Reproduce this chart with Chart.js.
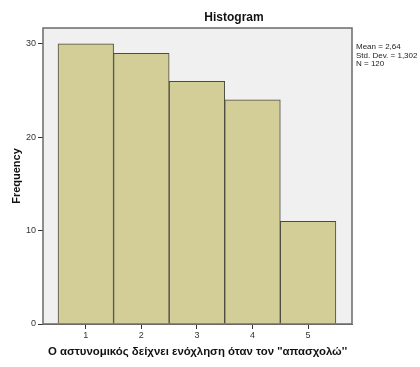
<!DOCTYPE html>
<html>
<head>
<meta charset="utf-8">
<script src="https://cdn.jsdelivr.net/npm/chart.js@4"></script>
<style>
  html, body { margin: 0; padding: 0; background: #fff; }
  #wrap { width: 420px; height: 367px; position: relative; }
</style>
</head>
<body>
<div id="wrap"><canvas id="hist"></canvas></div>
<script>
// Data
const binCenters = [1, 2, 3, 4, 5];
const frequencies = [30, 29, 26, 24, 11];
const yTicks = [0, 10, 20, 30];
const statsLines = ['Mean = 2,64', 'Std. Dev. = 1,302', 'N = 120'];

const FONT = 'Arial, "Liberation Sans", sans-serif';

// plot frame + title + stats box
const frame = {
  id: 'frame',
  beforeDatasetsDraw(chart) {
    const { ctx, chartArea: a } = chart;
    ctx.save();
    ctx.fillStyle = '#f0f0f0';
    ctx.fillRect(a.left, a.top, a.right - a.left, a.bottom - a.top);
    ctx.restore();
  },
  afterDraw(chart) {
    const { ctx, chartArea: a } = chart;
    ctx.save();
    ctx.strokeStyle = '#6a6a6a';
    ctx.lineWidth = 1.5;
    ctx.strokeRect(a.left, a.top, a.right - a.left, a.bottom - a.top);

    // SPSS centres the title over the whole chart (incl. stats column)
    ctx.fillStyle = '#111';
    ctx.font = 'bold 12px ' + FONT;
    ctx.textAlign = 'center';
    ctx.textBaseline = 'middle';
    ctx.fillText('Histogram', 234, 18);

    ctx.font = '8px ' + FONT;
    ctx.textAlign = 'left';
    ctx.fillStyle = '#222';
    statsLines.forEach((s, i) => ctx.fillText(s, a.right + 4, 47 + i * 8.5));
    ctx.restore();
  }
};

new Chart(document.getElementById('hist'), {
  type: 'bar',
  data: {
    datasets: [{
      data: binCenters.map((x, i) => ({ x, y: frequencies[i] })),
      backgroundColor: '#d3ce98',
      borderColor: '#4a4a40',
      borderWidth: 1,
      barPercentage: 1,
      categoryPercentage: 1
    }]
  },
  options: {
    responsive: true,
    maintainAspectRatio: false,
    animation: false,
    layout: { padding: { top: 28, right: 68, left: 0, bottom: 0 } },
    plugins: { legend: { display: false }, tooltip: { enabled: false }, title: { display: false } },
    scales: {
      x: {
        type: 'linear',
        offset: false,
        min: 0.23,
        max: 5.79,
        afterBuildTicks: s => { s.ticks = binCenters.map(v => ({ value: v })); },
        afterFit: s => { s.height = 43; },
        grid: { offset: false, drawOnChartArea: false, drawTicks: true, tickLength: 5, color: '#333' },
        border: { display: true, color: '#6a6a6a' },
        ticks: { font: { size: 9, family: FONT }, color: '#333', padding: 1 },
        title: {
          display: true,
          text: 'Ο αστυνομικός δείχνει ενόχληση όταν τον \'\'απασχολώ\'\'',
          font: { size: 11.4, weight: 'bold', family: FONT },
          color: '#111',
          padding: { top: 4, bottom: 8 }
        }
      },
      y: {
        min: 0,
        max: 31.7,
        afterBuildTicks: s => { s.ticks = yTicks.map(v => ({ value: v })); },
        afterFit: s => { s.width = 43; },
        grid: { drawOnChartArea: false, drawTicks: true, tickLength: 5, color: '#333' },
        border: { display: true, color: '#6a6a6a' },
        ticks: { font: { size: 9, family: FONT }, color: '#333', padding: 2 },
        title: {
          display: true,
          text: 'Frequency',
          font: { size: 11, weight: 'bold', family: FONT },
          color: '#111',
          padding: { top: 10, bottom: 0 }
        }
      }
    }
  },
  plugins: [frame]
});
</script>
</body>
</html>
